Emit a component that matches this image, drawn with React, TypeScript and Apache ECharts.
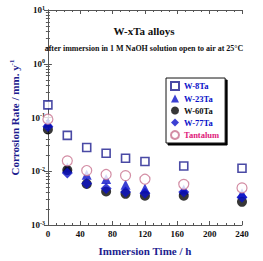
import React, { useEffect, useRef } from "react";
import * as echarts from "echarts";

// Immersion times (h)
const hours = [0, 24, 48, 72, 96, 120, 168, 240];

// Corrosion rates (mm/y) per alloy
const w8Ta = [0.172, 0.0465, 0.0277, 0.0216, 0.0175, 0.0152, 0.0125, 0.0114];
const w23Ta = [0.08, 0.0118, 0.0086, 0.0072, 0.0056, 0.0048, 0.0046, 0.0039];
const w60Ta = [0.06, 0.0105, 0.0058, 0.0042, 0.0038, 0.0035, 0.0035, 0.0027];
const w77Ta = [0.068, 0.0093, 0.0059, 0.0048, 0.0041, 0.0039, 0.0041, 0.0033];
const tantalum = [0.093, 0.0156, 0.0103, 0.0087, 0.0083, 0.0071, 0.0057, 0.0049];

const xTicks = [0, 40, 80, 120, 160, 200, 240];

const FONT = "Liberation Serif";
const NAVY = "#1d1d8f";
const BLUE = "#0a10c8";
const PINK = "#c8728e";
const MAGENTA = "#e0207a";

const pairs = (ys: number[]) => hours.map((h, i) => [h, ys[i]]);

export default function App() {
  const ref = useRef<HTMLDivElement>(null);

  useEffect(() => {
    if (!ref.current) return;
    const chart = echarts.init(ref.current, undefined, { renderer: "svg" });

    const axisLine = { show: true, lineStyle: { color: "#555", width: 1 } };
    const tick = { show: true, inside: true, length: 4, lineStyle: { color: "#555" } };
    const minor = { show: true, length: 2, lineStyle: { color: "#555" } };

    chart.setOption({
      animation: false,
      backgroundColor: "#fff",
      title: [
        {
          text: "W-xTa alloys",
          left: 139,
          textAlign: "center",
          top: 20,
          textStyle: { fontFamily: FONT, fontWeight: "bold", fontSize: 11, color: "#111" },
        },
        {
          text: "after immersion in 1 M NaOH solution open to air at 25°C",
          left: 139,
          textAlign: "center",
          top: 39,
          textStyle: { fontFamily: FONT, fontWeight: "bold", fontSize: 8, color: "#111" },
        },
      ],
      legend: {
        orient: "vertical",
        left: 166,
        top: 78,
        padding: [3, 6, 3, 4],
        itemGap: 3,
        itemWidth: 8,
        itemHeight: 8,
        backgroundColor: "#fff",
        borderColor: "#111",
        borderWidth: 1,
        shadowColor: "#000",
        shadowBlur: 0,
        shadowOffsetX: 2,
        shadowOffsetY: 2,
        textStyle: { fontFamily: FONT, fontWeight: "bold", fontSize: 8.5, padding: [0, 0, 0, 0] },
        data: [
          { name: "W-8Ta", textStyle: { color: BLUE } },
          { name: "W-23Ta", textStyle: { color: BLUE } },
          { name: "W-60Ta", textStyle: { color: "#111" } },
          { name: "W-77Ta", textStyle: { color: BLUE } },
          { name: "Tantalum", textStyle: { color: MAGENTA } },
        ],
      },
      grid: { left: 36, top: 10, right: 21, bottom: 31 },
      xAxis: [
        {
          type: "value",
          min: 0,
          max: 240,
          interval: 40,
          name: "Immersion Time / h",
          nameLocation: "middle",
          nameGap: 20,
          nameTextStyle: { fontFamily: FONT, fontWeight: "bold", fontSize: 11, color: NAVY },
          axisLine,
          axisTick: tick,
          minorTick: { ...minor, splitNumber: 4 },
          splitLine: { show: false },
          axisLabel: {
            fontFamily: FONT,
            fontWeight: "bold",
            fontSize: 9,
            color: "#111",
            margin: 4,
            customValues: xTicks,
          },
        },
        {
          type: "value",
          position: "top",
          min: 0,
          max: 240,
          interval: 40,
          axisLine,
          axisTick: tick,
          minorTick: { ...minor, splitNumber: 4 },
          splitLine: { show: false },
          axisLabel: { show: false },
        },
      ],
      yAxis: [
        {
          type: "log",
          logBase: 10,
          min: 0.001,
          max: 10,
          name: "{n|Corrosion Rate / mm. y}{s|-1}",
          nameLocation: "middle",
          nameGap: 22,
          nameTextStyle: {
            fontFamily: FONT,
            fontWeight: "bold",
            fontSize: 11,
            color: NAVY,
            rich: {
              n: { fontFamily: FONT, fontWeight: "bold", fontSize: 11, color: NAVY },
              s: {
                fontFamily: FONT,
                fontWeight: "bold",
                fontSize: 7,
                color: NAVY,
                verticalAlign: "top",
                padding: [0, 0, 6, 0],
              },
            },
          },
          axisLine,
          axisTick: tick,
          minorTick: { ...minor, splitNumber: 9 },
          splitLine: { show: false },
          axisLabel: {
            margin: 3,
            formatter: (v: number) => {
              const e = Math.round(Math.log10(v));
              return `{b|10}{s|${e}}`;
            },
            rich: {
              b: { fontFamily: FONT, fontWeight: "bold", fontSize: 9, color: "#111" },
              s: {
                fontFamily: FONT,
                fontWeight: "bold",
                fontSize: 6,
                color: "#111",
                verticalAlign: "top",
                padding: [0, 0, 5, 0],
              },
            },
          },
        },
        {
          type: "log",
          logBase: 10,
          min: 0.001,
          max: 10,
          position: "right",
          axisLine,
          axisTick: tick,
          minorTick: { ...minor, splitNumber: 9 },
          splitLine: { show: false },
          axisLabel: { show: false },
        },
      ],
      series: [
        {
          name: "W-8Ta",
          type: "scatter",
          symbol: "rect",
          symbolSize: 8,
          data: pairs(w8Ta),
          itemStyle: { color: "#fff", borderColor: NAVY, borderWidth: 1.6 },
        },
        {
          name: "W-23Ta",
          type: "scatter",
          symbol: "triangle",
          symbolSize: 10,
          data: pairs(w23Ta),
          itemStyle: { color: BLUE },
        },
        {
          name: "W-60Ta",
          type: "scatter",
          symbol: "circle",
          symbolSize: 10,
          data: pairs(w60Ta),
          itemStyle: { color: "#050505" },
        },
        {
          name: "W-77Ta",
          type: "scatter",
          symbol: "diamond",
          symbolSize: 11,
          data: pairs(w77Ta),
          itemStyle: { color: BLUE },
        },
        {
          name: "Tantalum",
          type: "scatter",
          symbol: "circle",
          symbolSize: 10,
          data: pairs(tantalum),
          itemStyle: { color: "#fff", borderColor: PINK, borderWidth: 1.2 },
        },
      ],
    });

    return () => chart.dispose();
  }, []);

  return (
    <div
      ref={ref}
      style={{ position: "absolute", left: 0, top: 0, width: 263, height: 261 }}
    />
  );
}
